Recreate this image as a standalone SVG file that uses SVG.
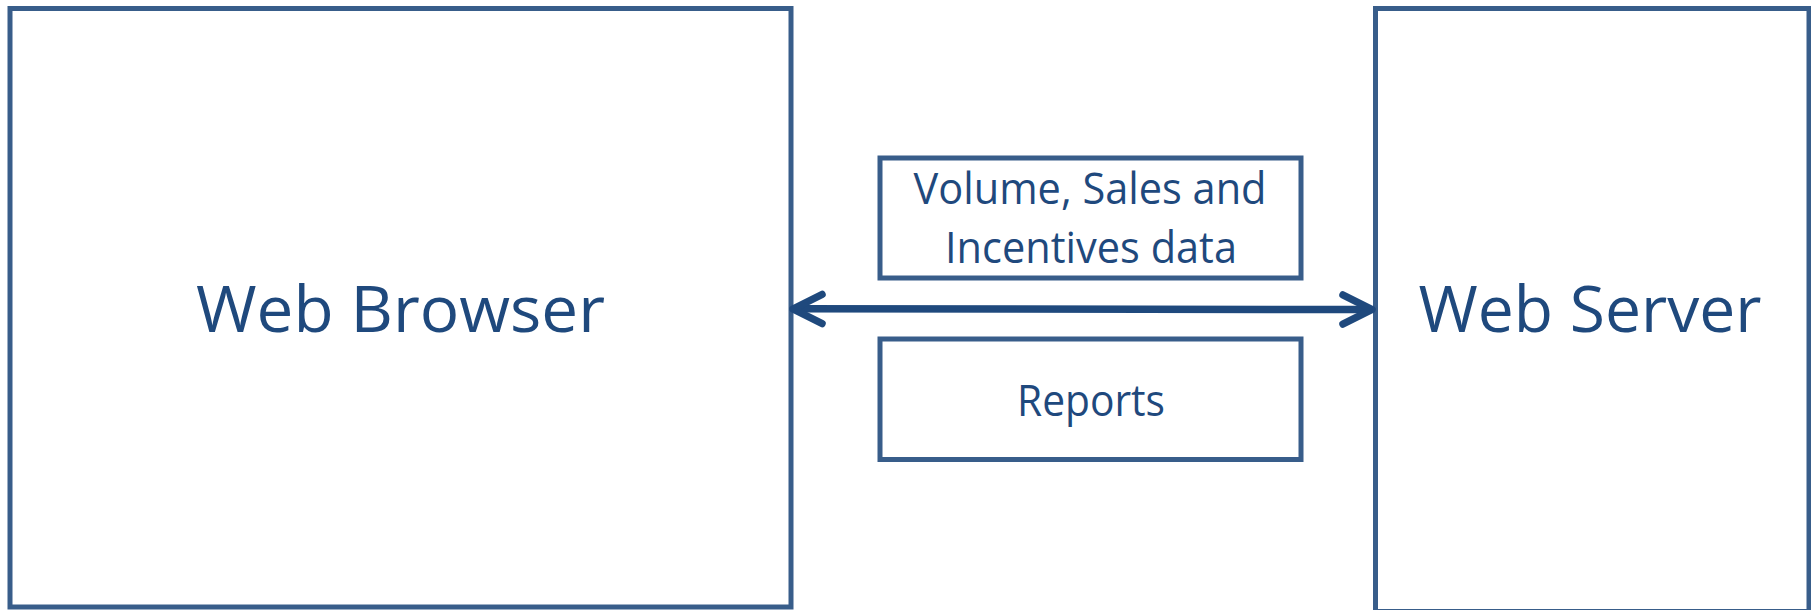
<svg xmlns="http://www.w3.org/2000/svg" width="1811" height="610" viewBox="0 0 1811 610">
<style>
.box{fill:#fff;stroke:#385D8A;stroke-width:5}
.t{font-family:"Open Sans","Liberation Sans",sans-serif;fill:#1F497D;text-anchor:middle}
.big{font-size:64px}
.mid{font-size:43.5px}
.conn{stroke:#1F497D;stroke-width:7.5;fill:none;stroke-linecap:round;stroke-linejoin:round}
</style>
<rect width="1811" height="610" fill="#fff"/>
<g id="web-browser">
<rect class="box" x="10" y="8.5" width="781" height="598.5"/>
<text class="t big" x="400.5" y="331.5" textLength="409" lengthAdjust="spacingAndGlyphs">Web Browser</text>
</g>
<g id="web-server">
<rect class="box" x="1375.5" y="8.5" width="433.5" height="603"/>
<text class="t big" x="1590" y="331.5" textLength="343" lengthAdjust="spacingAndGlyphs">Web Server</text>
</g>
<g id="data-box">
<rect class="box" x="880" y="158" width="421" height="120"/>
<text class="t mid" x="1090" y="204.3" textLength="353" lengthAdjust="spacingAndGlyphs">Volume, Sales and</text>
<text class="t mid" x="1091" y="262.7" textLength="292" lengthAdjust="spacingAndGlyphs">Incentives data</text>
</g>
<g id="reports-box">
<rect class="box" x="880" y="339" width="421" height="120.5"/>
<text class="t mid" x="1091" y="416" textLength="148" lengthAdjust="spacingAndGlyphs">Reports</text>
</g>
<g id="connectors">
<line class="conn" x1="795" y1="308.8" x2="1370" y2="309.6"/>
<polyline class="conn" points="822,294.5 793,309 822,323.5"/>
<polyline class="conn" points="1343,295 1372,309.5 1343,324"/>
</g>
</svg>
